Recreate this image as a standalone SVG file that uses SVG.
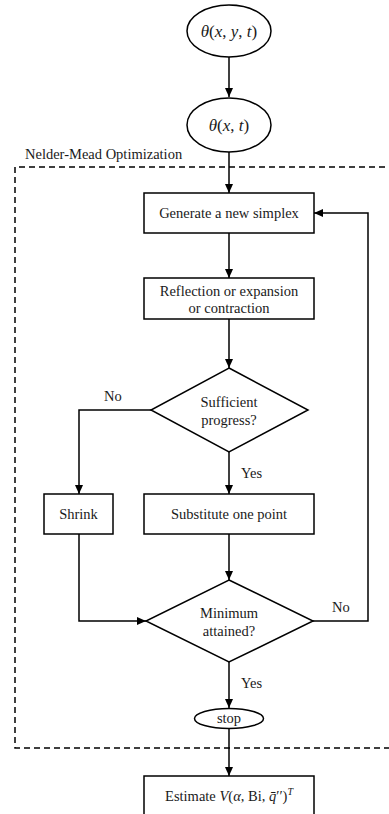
<svg xmlns="http://www.w3.org/2000/svg" width="389" height="814" viewBox="0 0 389 814">
<defs>
<marker id="ah" markerWidth="10" markerHeight="10" refX="9" refY="4" orient="auto" markerUnits="userSpaceOnUse">
<path d="M0,0 L9,4 L0,8 Z" fill="#000"/>
</marker>
<style>
.s{fill:#fff;stroke:#000;stroke-width:1.5}
.t{font-family:'Liberation Serif','Times New Roman',serif;font-size:14.5px;fill:#1a1a1a;text-anchor:middle}
.l{font-family:'Liberation Serif','Times New Roman',serif;font-size:14.5px;fill:#1a1a1a}
.m{font-family:'Liberation Serif','Times New Roman',serif;font-size:17px;fill:#1a1a1a;text-anchor:middle}
.i{font-style:italic}
.c{fill:none;stroke:#000;stroke-width:1.5}
</style>
</defs>
<rect x="0" y="0" width="389" height="814" fill="#fff"/>
<g id="frame">
<path d="M395,167 H15 V748 H395" fill="none" stroke="#000" stroke-width="1.5" stroke-dasharray="6,4"/>
<text class="l" x="25" y="159" font-size="13.5">Nelder-Mead Optimization</text>
</g>
<g id="connectors">
<path class="c" d="M229,57 V97" marker-end="url(#ah)"/>
<path class="c" d="M229,152 V193" marker-end="url(#ah)"/>
<path class="c" d="M229,233 V278" marker-end="url(#ah)"/>
<path class="c" d="M229,319 V368" marker-end="url(#ah)"/>
<path class="c" d="M151,410 H79 V494" marker-end="url(#ah)"/>
<path class="c" d="M229,452 V494" marker-end="url(#ah)"/>
<path class="c" d="M229,534 V580" marker-end="url(#ah)"/>
<path class="c" d="M79,534 V621 H146" marker-end="url(#ah)"/>
<path class="c" d="M313,621 H368 V213 H314" marker-end="url(#ah)"/>
<path class="c" d="M229,662 V708" marker-end="url(#ah)"/>
<path class="c" d="M229,728 V776" marker-end="url(#ah)"/>
<text class="l" x="104" y="401">No</text>
<text class="l" x="241" y="478">Yes</text>
<text class="l" x="332" y="612">No</text>
<text class="l" x="241" y="688">Yes</text>
</g>
<g id="n1">
<ellipse class="s" cx="229" cy="31" rx="42" ry="26"/>
<text class="m" x="229" y="37"><tspan class="i">θ</tspan>(<tspan class="i">x</tspan>, <tspan class="i">y</tspan>, <tspan class="i">t</tspan>)</text>
</g>
<g id="n2">
<ellipse class="s" cx="229" cy="125" rx="42" ry="27"/>
<text class="m" x="229" y="131"><tspan class="i">θ</tspan>(<tspan class="i">x</tspan>, <tspan class="i">t</tspan>)</text>
</g>
<g id="generate">
<rect class="s" x="144" y="193" width="170" height="40"/>
<text class="t" x="229" y="218">Generate a new simplex</text>
</g>
<g id="reflection">
<rect class="s" x="144" y="278" width="170" height="41"/>
<text class="t" x="229" y="296">Reflection or expansion</text>
<text class="t" x="229" y="313">or contraction</text>
</g>
<g id="sufficient">
<path class="s" d="M229,368 L308,410 L229,452 L151,410 Z"/>
<text class="t" x="229" y="407">Sufficient</text>
<text class="t" x="229" y="425">progress?</text>
</g>
<g id="shrink">
<rect class="s" x="44" y="494" width="69" height="40"/>
<text class="t" x="78.5" y="519">Shrink</text>
</g>
<g id="substitute">
<rect class="s" x="144" y="494" width="170" height="40"/>
<text class="t" x="229" y="519">Substitute one point</text>
</g>
<g id="minimum">
<path class="s" d="M229,580 L313,621 L229,662 L146,621 Z"/>
<text class="t" x="229" y="618">Minimum</text>
<text class="t" x="229" y="636">attained?</text>
</g>
<g id="stop">
<ellipse class="s" cx="229" cy="718.5" rx="34.5" ry="10"/>
<text class="t" x="229" y="723">stop</text>
</g>
<g id="estimate">
<rect class="s" x="144" y="776" width="170" height="45"/>
<text class="t" x="229" y="801">Estimate <tspan class="i">V</tspan>(<tspan class="i">α</tspan>, Bi, <tspan class="i">q̄</tspan>′′)<tspan class="i" font-size="10" dy="-6">T</tspan></text>
</g>
</svg>
